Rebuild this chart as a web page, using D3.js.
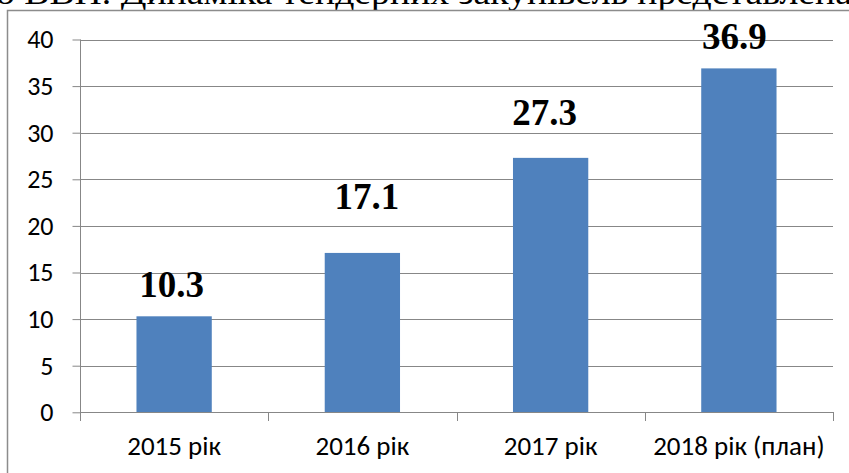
<!DOCTYPE html>
<html>
<head>
<meta charset="utf-8">
<script src="https://cdn.jsdelivr.net/npm/d3@7/dist/d3.min.js"></script>
<style>
  html, body { margin: 0; padding: 0; background: #fff; }
  svg { display: block; }
</style>
</head>
<body>
<svg id="chart" width="849" height="473"></svg>
<script>
// ---- data ----
const categories = ["2015 рік", "2016 рік", "2017 рік", "2018 рік (план)"];
const values = [10.3, 17.1, 27.3, 36.9];
const valueLabels = ["10.3", "17.1", "27.3", "36.9"];
const yTicks = [0, 5, 10, 15, 20, 25, 30, 35, 40];
const headerText = "о ВВП. Динаміка тендерних закупівель представлена";

// ---- layout / style ----
const W = 849, H = 473;
const plot = { left: 80, right: 833, top: 39.5, bottom: 412.3 };
// manual label placement (px above bar top, px horizontal shift), as in the source
const labelLift = [19.5, 44, 33, 19];
const labelShift = [-2.5, 4.5, -6, -4.5];

const svg = d3.select("#chart");

// cut-off header text from the surrounding document
svg.append("text")
  .attr("x", -4).attr("y", 4)
  .attr("textLength", 856).attr("lengthAdjust", "spacingAndGlyphs")
  .style("font-family", "'Liberation Serif', 'Times New Roman', serif")
  .style("font-size", "34px")
  .attr("fill", "#000")
  .text(headerText);

// chart frame
svg.append("rect")
  .attr("x", 7.5).attr("y", 10.5)
  .attr("width", W + 20).attr("height", H + 20)
  .attr("fill", "none")
  .attr("stroke", "#8c8c8c")
  .attr("stroke-width", 1.5);

const x = d3.scaleBand().domain(categories).range([plot.left, plot.right]).padding(0);
const y = d3.scaleLinear().domain([0, 40]).range([plot.bottom, plot.top]);

const gridColor = "#878787";
const labelFont = "Carlito, Calibri, 'Open Sans', sans-serif";

// gridlines
svg.append("g").selectAll("line")
  .data(yTicks.filter(d => d > 0))
  .join("line")
  .attr("x1", plot.left).attr("x2", plot.right)
  .attr("y1", d => Math.round(y(d)) + 0.5).attr("y2", d => Math.round(y(d)) + 0.5)
  .attr("stroke", gridColor).attr("stroke-width", 1);

// bars
const bw = x.bandwidth();
svg.append("g").selectAll("rect")
  .data(values)
  .join("rect")
  .attr("x", (d, i) => x(categories[i]) + bw * 0.3)
  .attr("width", bw * 0.4)
  .attr("y", d => y(d))
  .attr("height", d => y(0) - y(d))
  .attr("fill", "#4f81bd");

// y axis
const yAxis = d3.axisLeft(y).tickValues(yTicks).tickSize(8).tickPadding(19).tickFormat(d3.format("d"));
const gy = svg.append("g").attr("transform", `translate(${plot.left + 0.5},0)`).call(yAxis);
gy.select(".domain").attr("stroke", gridColor).attr("d", `M0,${plot.top}V${plot.bottom}`);
gy.selectAll(".tick line").attr("stroke", gridColor);
gy.selectAll(".tick text")
  .style("font-family", labelFont)
  .style("font-size", "26px").attr("fill", "#000");

// x axis line with boundary ticks
const boundaries = categories.map(c => x(c)).concat([plot.right]);
const gx = svg.append("g");
gx.append("line")
  .attr("x1", plot.left).attr("x2", plot.right)
  .attr("y1", Math.round(y(0)) + 0.5).attr("y2", Math.round(y(0)) + 0.5)
  .attr("stroke", gridColor);
gx.selectAll("line.bt").data(boundaries).join("line").attr("class", "bt")
  .attr("x1", d => Math.round(d) + 0.5).attr("x2", d => Math.round(d) + 0.5)
  .attr("y1", Math.round(y(0))).attr("y2", Math.round(y(0)) + 9)
  .attr("stroke", gridColor);

const xAxis = d3.axisBottom(x).tickSize(0).tickPadding(0);
const gxl = svg.append("g").attr("transform", `translate(0,${plot.bottom})`).call(xAxis);
gxl.select(".domain").remove();
gxl.selectAll(".tick text")
  .attr("dy", null).attr("y", 42.7)
  .style("font-family", labelFont)
  .style("font-size", "27px").attr("fill", "#000");

// value labels
svg.append("g").selectAll("text")
  .data(values)
  .join("text")
  .attr("x", (d, i) => x(categories[i]) + bw / 2 + labelShift[i])
  .attr("y", (d, i) => y(d) - labelLift[i])
  .attr("text-anchor", "middle")
  .style("font-family", "'Liberation Serif', 'Times New Roman', serif")
  .style("font-weight", "bold")
  .style("font-size", "37px")
  .attr("fill", "#000")
  .text((d, i) => valueLabels[i]);
</script>
</body>
</html>
